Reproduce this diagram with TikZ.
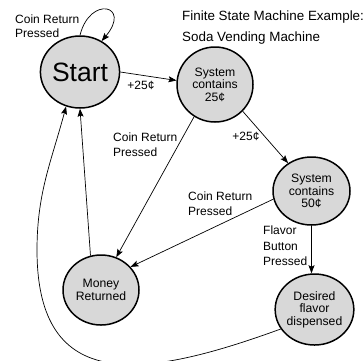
\documentclass[tikz,border=0pt]{standalone}
\usepackage{fontspec}
\setmainfont{Liberation Sans}
\usetikzlibrary{arrows.meta,shapes.geometric}
\definecolor{statefill}{RGB}{216,216,216}
\begin{document}
\begin{tikzpicture}[x=1pt,y=-1pt,
  state/.style={ellipse, draw=black, line width=1.5pt, fill=statefill, inner sep=0pt,
    align=center, font=\fontsize{12.2}{12.5}\selectfont},
  edge/.style={draw=black, line width=0.7pt, -{Stealth[length=8pt,width=6pt,inset=1.5pt]}},
  lbl/.style={align=left, font=\fontsize{12}{14.5}\selectfont, inner sep=0pt, anchor=west},
  clbl/.style={font=\fontsize{12}{14.5}\selectfont, inner sep=0pt}
]
\useasboundingbox (0,0) rectangle (363,360);
% states
\node[state, minimum width=76pt, minimum height=72pt, font=\fontsize{26.5}{28}\selectfont] (start) at (80,72) {Start};
\node[state, minimum width=76pt, minimum height=75pt] (s25) at (215,84.5) {System\\contains\\25¢};
\node[state, minimum width=77pt, minimum height=68pt] (s50) at (311.5,191) {System\\contains\\50¢};
\node[state, minimum width=76pt, minimum height=70pt] (money) at (101,290) {Money\\Returned};
\node[state, minimum width=75pt, minimum height=71pt] (desired) at (314.5,309.5) {Desired\\flavor\\dispensed};
% title
\node[lbl, font=\fontsize{13.4}{20.5}\selectfont] (title) at (182,27.5) {Finite State Machine Example:\\Soda Vending Machine};
% edges
\draw[edge] (start.90) .. controls (90,-5) and (132,5) .. (start.55);
\node[lbl] (l0) at (15,26) {Coin Return\\Pressed};
\draw[edge] (start.0) -- (s25.174);
\node[clbl] (l1) at (141,85) {+25¢};
\draw[edge] (s25.-44) -- (s50.130);
\node[clbl] (l2) at (246,136) {+25¢};
\draw[edge] (s25.-123) -- (money.65);
\node[lbl] (l3) at (113,144.5) {Coin Return\\Pressed};
\draw[edge] (s50.-168) -- (money.38);
\node[lbl] (l4) at (188,203.5) {Coin Return\\Pressed};
\draw[edge] (s50.south) -- (s50.south |- desired.north);
\node[lbl, font=\fontsize{12}{15.5}\selectfont] (l5) at (263,246) {Flavor\\Button\\Pressed};
\draw[edge] (money.107) -- (start.270);
\coordinate (loopleft) at (37,250);
\draw[edge] (desired.-150) to[out=200,in=270,looseness=1.45] (loopleft) to[out=90,in=255] (start.248);
\end{tikzpicture}
\end{document}
